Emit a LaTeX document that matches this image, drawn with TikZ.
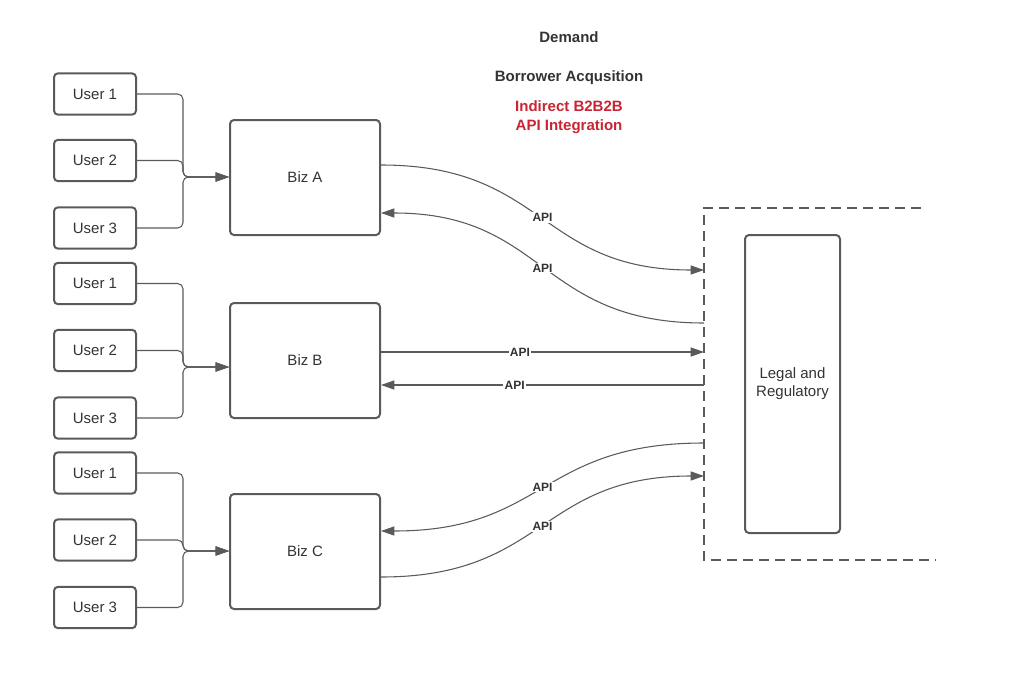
\documentclass[tikz,border=0pt]{standalone}
\usepackage{fontspec}
\setmainfont{Liberation Sans}
\usetikzlibrary{arrows.meta}
\definecolor{ln}{RGB}{90,90,90}
\definecolor{tx}{RGB}{51,51,51}
\definecolor{rd}{RGB}{200,36,52}
\begin{document}
\begin{tikzpicture}[x=0.75pt,y=-0.75pt,
 box/.style={draw=ln,line width=1.5pt,rounded corners=3pt,fill=white,text=tx,font=\fontsize{11.25}{13.5}\selectfont,align=center,inner sep=0pt},
 userbox/.style={box,minimum width=61.5pt,minimum height=31pt},
 bizbox/.style={box,minimum width=112.5pt,minimum height=86.25pt},
 conn/.style={draw=ln,line width=0.8pt},
 feed/.style={conn,rounded corners=4pt,-{Triangle[length=10pt,width=6.8pt]}},
 tip/.style={-{Triangle[length=10pt,width=6.8pt]}},
 api/.style={fill=white,inner sep=1pt,text=tx,font=\bfseries\fontsize{9}{10}\selectfont},
 title/.style={text=tx,font=\bfseries\fontsize{11.25}{14}\selectfont,align=center},
 dashbox/.style={draw=ln,line width=1.1pt,dash pattern=on 7.5pt off 4.5pt}]
\useasboundingbox (0,0) rectangle (1024,678);

% titles
\node[title] (t1) at (569,37) {Demand};
\node[title] (t2) at (569,78) {Borrower Acqusition};
\node[title,text=rd] (t3) at (569,117) {Indirect B2B2B\\API Integration};

% users
\node[userbox] (a1) at (95,94) {User 1};
\node[userbox] (a2) at (95,160.5) {User 2};
\node[userbox] (a3) at (95,228) {User 3};
\node[userbox] (b1) at (95,283.5) {User 1};
\node[userbox] (b2) at (95,350.5) {User 2};
\node[userbox] (b3) at (95,418) {User 3};
\node[userbox] (c1) at (95,473) {User 1};
\node[userbox] (c2) at (95,540) {User 2};
\node[userbox] (c3) at (95,607.5) {User 3};

% biz
\node[bizbox] (bizA) at (305,177.5) {Biz A};
\node[bizbox] (bizB) at (305,360.5) {Biz B};
\node[bizbox] (bizC) at (305,551.5) {Biz C};

% legal
\node[box,minimum width=71.25pt,minimum height=223.5pt] (legal) at (792.5,384) {Legal and\\Regulatory};
\draw[dashbox] (921,208) -- (704,208) -- (704,560) -- (936,560);

% junctions
\coordinate (jA) at (183,177);
\coordinate (jB) at (183,367);
\coordinate (jC) at (183,551);
\foreach \u in {a1,a2,a3} \draw[feed] (\u.east) -| (jA) -- (bizA.west |- jA);
\foreach \u in {b1,b2,b3} \draw[feed] (\u.east) -| (jB) -- (bizB.west |- jB);
\foreach \u in {c1,c2,c3} \draw[feed] (\u.east) -| (jC) -- (bizC.west |- jC);

% dashed-box ends
\coordinate (d1) at (704,270);
\coordinate (d2) at (704,323);
\coordinate (d3) at (704,352);
\coordinate (d4) at (704,385);
\coordinate (d5) at (704,443);
\coordinate (d6) at (704,476);

\draw[conn,tip] ([yshift=9.375pt]bizA.east) .. controls +(165,0) and +(-165,0) .. (d1) node[api,pos=0.5] {API};
\draw[conn,tip] (d2) .. controls +(-165,0) and +(165,0) .. ([yshift=-26.625pt]bizA.east) node[api,pos=0.5] {API};
\draw[conn,tip] (bizB.east |- d3) -- (d3) node[api,pos=0.43] {API};
\draw[conn,tip] (d4) -- (bizB.east |- d4) node[api,pos=0.586] {API};
\draw[conn,tip] (d5) .. controls +(-165,0) and +(165,0) .. ([yshift=15.375pt]bizC.east) node[api,pos=0.5] {API};
\draw[conn,tip] ([yshift=-19.125pt]bizC.east) .. controls +(165,0) and +(-165,0) .. (d6) node[api,pos=0.5] {API};
\end{tikzpicture}
\end{document}
